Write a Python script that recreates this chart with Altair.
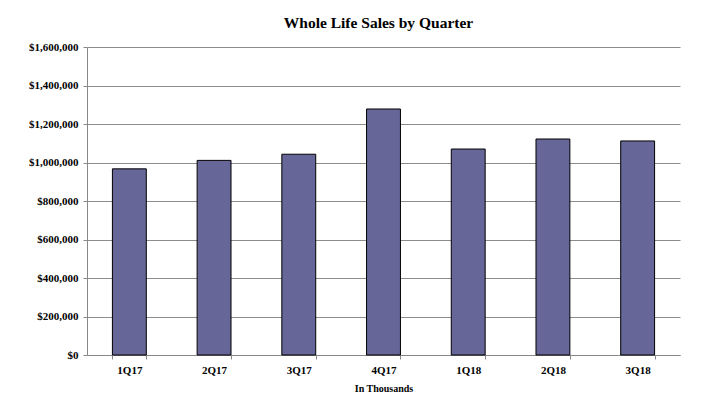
import altair as alt
import pandas as pd

quarters = ["1Q17", "2Q17", "3Q17", "4Q17", "1Q18", "2Q18", "3Q18"]
sales = [967000, 1011000, 1043000, 1278000, 1070000, 1122000, 1112000]

df = pd.DataFrame({"quarter": quarters, "sales": sales})

FONT = "Liberation Serif"

chart = alt.Chart(df).mark_bar(
    color="#666699", stroke="#000000", strokeWidth=1
).encode(
    x=alt.X("quarter:N", sort=quarters,
            scale=alt.Scale(paddingInner=0.6, paddingOuter=0.3),
            axis=alt.Axis(title="In Thousands", labelAngle=0, tickBand="extent",
                          domainColor="#888888", tickColor="#888888", tickSize=4,
                          labelFont=FONT, labelFontSize=11, labelFontWeight="bold",
                          labelColor="#000000", labelPadding=5,
                          titleFont=FONT, titleFontSize=10, titleFontWeight="bold",
                          titleColor="#000000", titlePadding=8, grid=False)),
    y=alt.Y("sales:Q",
            scale=alt.Scale(domain=[0, 1600000]),
            axis=alt.Axis(title=None, values=list(range(0, 1600001, 200000)),
                          format="$,.0f", grid=True, gridColor="#8c8c8c", gridWidth=1.2,
                          domainColor="#888888", tickColor="#888888", tickSize=4,
                          labelFont=FONT, labelFontSize=11, labelFontWeight="bold",
                          labelColor="#000000", labelPadding=5)),
).properties(
    width=593, height=308,
    title=alt.TitleParams("Whole Life Sales by Quarter", font=FONT, fontSize=15.5,
                          fontWeight="bold", color="#000000", anchor="middle",
                          offset=10, dx=-5),
    autosize=alt.AutoSizeParams(type="none"),
    padding={"left": 79, "top": 39, "right": 15, "bottom": 40},
).configure_view(stroke=None)

chart.save("out.html", embed_options={"renderer": "svg", "actions": False})
